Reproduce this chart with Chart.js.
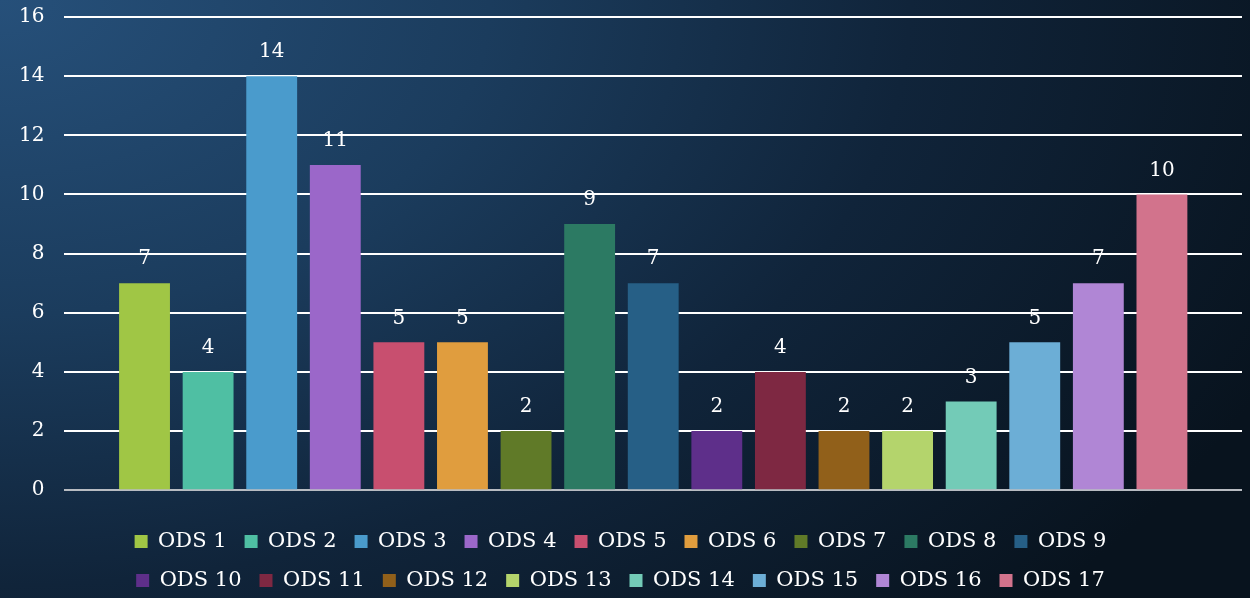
<!DOCTYPE html>
<html>
<head>
<meta charset="utf-8">
<script src="https://cdn.jsdelivr.net/npm/chart.js@4/dist/chart.umd.min.js"></script>
<style>
  html, body { margin: 0; padding: 0; }
  body {
    width: 1250px; height: 598px; overflow: hidden;
    background: radial-gradient(ellipse 1400px 900px at 0% 0%, #26507a 0%, #1b3c5d 35%, #10243a 65%, #08131e 100%);
  }
  #wrap { position: relative; width: 1250px; height: 598px; }
</style>
</head>
<body>
<div id="wrap"><canvas id="myChart"></canvas></div>
<script>
// series names and values (one bar each)
const seriesNames = ['ODS 1','ODS 2','ODS 3','ODS 4','ODS 5','ODS 6','ODS 7','ODS 8','ODS 9',
                     'ODS 10','ODS 11','ODS 12','ODS 13','ODS 14','ODS 15','ODS 16','ODS 17'];
const seriesValues = [7, 4, 14, 11, 5, 5, 2, 9, 7, 2, 4, 2, 2, 3, 5, 7, 10];
const seriesColors = ['#a0c645','#4fbfa3','#4a9bcc','#9b67c9','#c84f6f','#e09d3e','#607a28','#2c7a63',
                      '#265f86','#5e2f8a','#7e2842','#91601a','#b4d46c','#73cbb7','#6caed6','#b086d5','#d2738c'];
const yMin = 0, yMax = 16, yStep = 2;

const FONT = "'DejaVu Serif', 'Liberation Serif', serif";
const LEGEND_ROW_WIDTH = 1100; // legend wraps after ODS 9 like the original

// draws the value above each bar
const valueLabels = {
  id: 'valueLabels',
  afterInit(chart) {
    // narrower wrap width for the legend rows, box itself stays full width
    const lg = chart.legend;
    const fit = lg.fit;
    lg.fit = function() {
      const full = this.maxWidth;
      this.maxWidth = Math.min(full, LEGEND_ROW_WIDTH);
      fit.call(this);
      this.maxWidth = full;
      this.width = full;
    };
  },
  afterDatasetsDraw(chart) {
    const ctx = chart.ctx;
    ctx.save();
    ctx.fillStyle = '#ffffff';
    ctx.font = '20px ' + FONT;
    ctx.textAlign = 'center';
    ctx.textBaseline = 'middle';
    chart.data.datasets.forEach((ds, i) => {
      const meta = chart.getDatasetMeta(i);
      meta.data.forEach((bar, j) => {
        ctx.fillText(ds.data[j], bar.x, bar.y - 24);
      });
    });
    ctx.restore();
  }
};

window.onload = function() {
  const datasets = seriesNames.map((name, i) => ({
    label: name,
    data: [seriesValues[i]],
    backgroundColor: seriesColors[i],
    borderWidth: 0
  }));

  const config = {
    type: 'bar',
    data: { labels: [''], datasets: datasets },
    options: {
      responsive: true,
      maintainAspectRatio: false,
      animation: false,
      categoryPercentage: 0.918,
      barPercentage: 0.8,
      layout: { padding: { top: 17, right: 8, left: -1, bottom: -3 } },
      scales: {
        x: {
          display: false
        },
        y: {
          min: yMin,
          max: yMax,
          border: { display: false },
          afterFit: (s) => { s.paddingTop = 0; },
          ticks: {
            stepSize: yStep,
            color: '#ffffff',
            padding: 20,
            font: { family: FONT, size: 20 }
          },
          grid: {
            drawTicks: false,
            lineWidth: 2,
            color: (c) => c.tick && c.tick.value === 0 ? '#b8bcc2' : '#ffffff'
          }
        }
      },
      plugins: {
        tooltip: { enabled: false },
        legend: {
          position: 'bottom',
          title: { display: true, text: ' ', padding: 0, font: { size: 19 } },
          labels: {
            color: '#ffffff',
            boxWidth: 13,
            boxHeight: 13,
            padding: 18,
            font: { family: FONT, size: 21 }
          }
        }
      }
    },
    plugins: [valueLabels]
  };

  const ctx = document.getElementById('myChart').getContext('2d');
  new Chart(ctx, config);
};
</script>
</body>
</html>
